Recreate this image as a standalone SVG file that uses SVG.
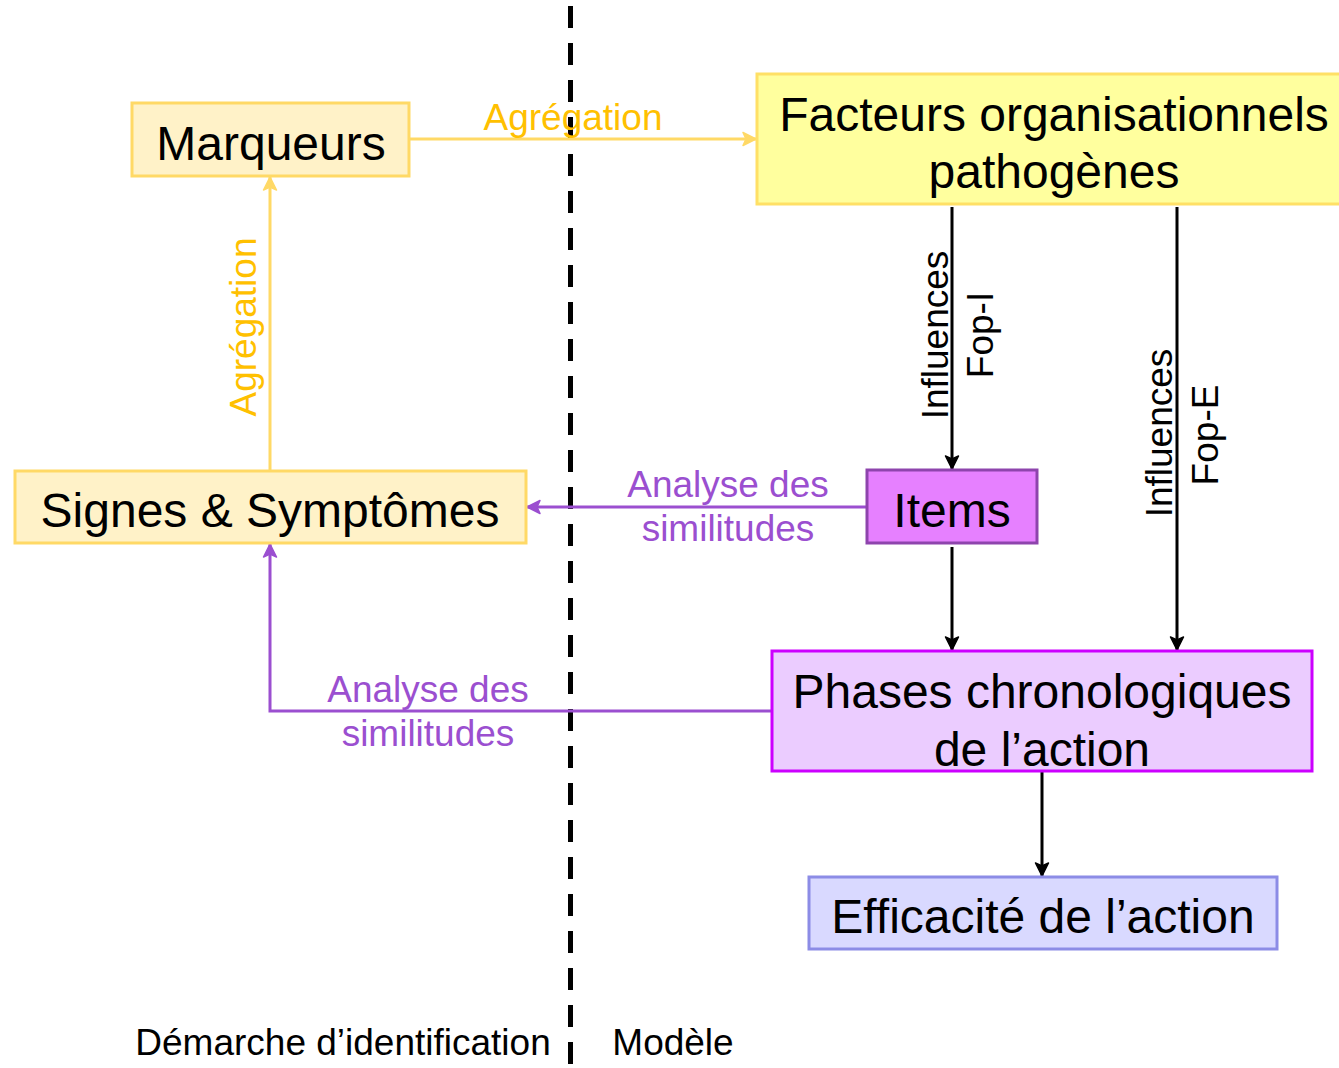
<svg xmlns="http://www.w3.org/2000/svg" width="1339" height="1068" viewBox="0 0 1339 1068">
  <style>
    text { font-family: "Liberation Sans", Arial, sans-serif; }
    .big { font-size: 48px; fill: #000; text-anchor: middle; }
    .lbl { font-size: 37px; text-anchor: middle; }
    .yel { fill: #FFC000; }
    .pur { fill: #9B4FD0; }
    .blk { fill: #000; }
    .cY { stroke: #FFD966; stroke-width: 3; fill: none; }
    .cP { stroke: #9B4FD0; stroke-width: 3; fill: none; }
    .cK { stroke: #000; stroke-width: 3; fill: none; }
  </style>
  <defs>
    <marker id="arrY" markerUnits="userSpaceOnUse" markerWidth="18" markerHeight="18" viewBox="0 0 18 18" refX="16" refY="9" orient="auto">
      <path d="M3,2.5 L16,9 L3,15.5 L6,9 Z" fill="#FFD966" stroke="#FFD966" stroke-width="1.5" stroke-linejoin="round"/>
    </marker>
    <marker id="arrP" markerUnits="userSpaceOnUse" markerWidth="18" markerHeight="18" viewBox="0 0 18 18" refX="16" refY="9" orient="auto">
      <path d="M3,2.5 L16,9 L3,15.5 L6,9 Z" fill="#9B4FD0" stroke="#9B4FD0" stroke-width="1.5" stroke-linejoin="round"/>
    </marker>
    <marker id="arrK" markerUnits="userSpaceOnUse" markerWidth="18" markerHeight="18" viewBox="0 0 18 18" refX="16" refY="9" orient="auto">
      <path d="M3,2.5 L16,9 L3,15.5 L6,9 Z" fill="#000" stroke="#000" stroke-width="1.5" stroke-linejoin="round"/>
    </marker>
  </defs>

  <rect width="1339" height="1068" fill="#fff"/>

  <!-- separator between the two halves -->
  <line x1="570.5" y1="6" x2="570.5" y2="1068" stroke="#000" stroke-width="5" stroke-dasharray="22 15"/>

  <!-- connectors -->
  <g id="connectors">
    <line class="cY" x1="409" y1="139" x2="756" y2="139" marker-end="url(#arrY)"/>
    <line class="cY" x1="270" y1="471" x2="270" y2="177" marker-end="url(#arrY)"/>
    <line class="cK" x1="952" y1="207" x2="952" y2="469" marker-end="url(#arrK)"/>
    <line class="cK" x1="1177" y1="207" x2="1177" y2="650" marker-end="url(#arrK)"/>
    <line class="cK" x1="952" y1="547" x2="952" y2="650" marker-end="url(#arrK)"/>
    <line class="cK" x1="1042" y1="772" x2="1042" y2="876" marker-end="url(#arrK)"/>
    <line class="cP" x1="867" y1="507" x2="527" y2="507" marker-end="url(#arrP)"/>
    <polyline class="cP" points="772,711 270,711 270,544" marker-end="url(#arrP)"/>

    <text class="lbl yel" x="573" y="130">Agrégation</text>
    <text class="lbl yel" transform="translate(256,327) rotate(-90)">Agrégation</text>
    <text class="lbl blk" transform="translate(948,335) rotate(-90)">Influences</text>
    <text class="lbl blk" transform="translate(993,335) rotate(-90)">Fop-I</text>
    <text class="lbl blk" transform="translate(1172,433) rotate(-90)">Influences</text>
    <text class="lbl blk" transform="translate(1218,435) rotate(-90)">Fop-E</text>
    <text class="lbl pur" x="728" y="497">Analyse des</text>
    <text class="lbl pur" x="728" y="541">similitudes</text>
    <text class="lbl pur" x="428" y="702">Analyse des</text>
    <text class="lbl pur" x="428" y="746">similitudes</text>
  </g>

  <g id="marqueurs">
    <rect x="132" y="103" width="277" height="73" fill="#FFF2C8" stroke="#FFD966" stroke-width="3"/>
    <text class="big" x="271" y="160">Marqueurs</text>
  </g>

  <g id="facteurs">
    <rect x="757" y="74" width="590" height="130" fill="#FFFF9E" stroke="#FFE066" stroke-width="3"/>
    <text class="big" x="1054" y="131">Facteurs organisationnels</text>
    <text class="big" x="1054" y="188">pathogènes</text>
  </g>

  <g id="signes">
    <rect x="15" y="471" width="511" height="72" fill="#FFF2C8" stroke="#FFD966" stroke-width="3"/>
    <text class="big" x="270" y="527">Signes &amp; Symptômes</text>
  </g>

  <g id="items">
    <rect x="867" y="470" width="170" height="73" fill="#E680FF" stroke="#8E44AD" stroke-width="3"/>
    <text class="big" x="952" y="527">Items</text>
  </g>

  <g id="phases">
    <rect x="772" y="651" width="540" height="120" fill="#EBCCFF" stroke="#CC00FF" stroke-width="3"/>
    <text class="big" x="1042" y="708">Phases chronologiques</text>
    <text class="big" x="1042" y="766">de l’action</text>
  </g>

  <g id="efficacite">
    <rect x="809" y="877" width="468" height="72" fill="#D9D9FF" stroke="#8C8CE6" stroke-width="3"/>
    <text class="big" x="1043" y="933">Efficacité de l’action</text>
  </g>

  <g id="footer">
    <text class="lbl blk" x="343" y="1055">Démarche d’identification</text>
    <text class="lbl blk" x="673" y="1055">Modèle</text>
  </g>
</svg>
